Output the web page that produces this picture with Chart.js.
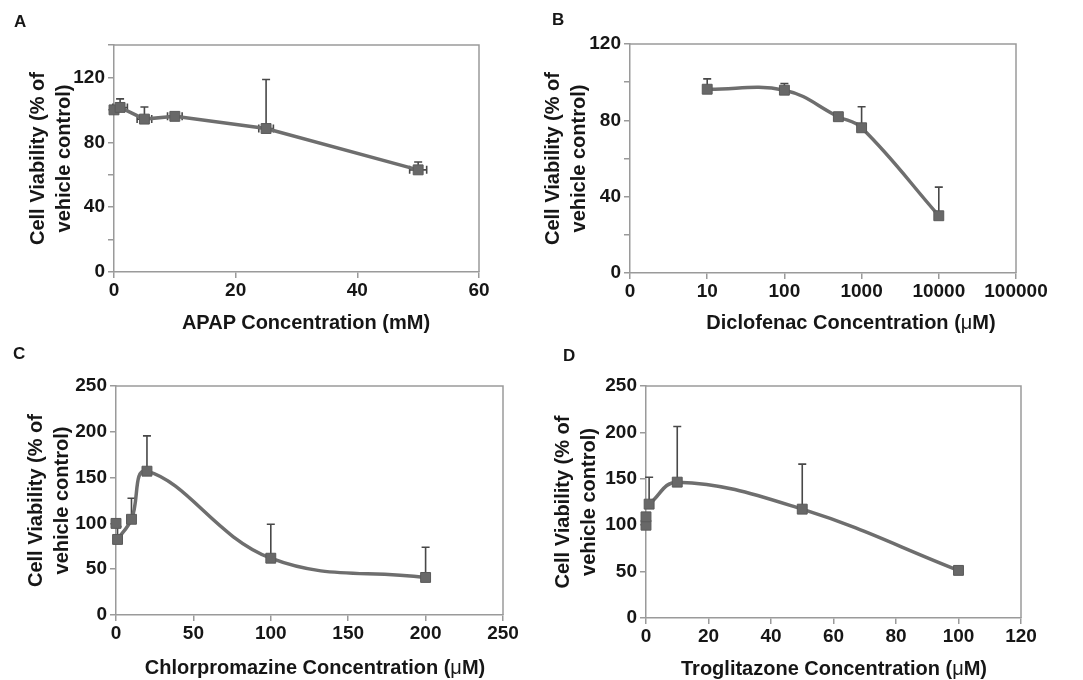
<!DOCTYPE html>
<html>
<head>
<meta charset="utf-8">
<script src="https://cdn.jsdelivr.net/npm/chart.js@4.4.1/dist/chart.umd.min.js"></script>
<style>
  body { margin: 0; background: #fff; }
  #wrap { position: relative; width: 1083px; height: 680px; overflow: hidden;
          font-family: "Liberation Sans", Arial, sans-serif; color: #161616; }
  canvas { position: absolute; }
  .letter { position: absolute; font-weight: bold; font-size: 17px; line-height: 17px; }
  .xtitle { position: absolute; font-weight: bold; font-size: 20px; line-height: 20px;
            white-space: nowrap; transform: translateX(-50%); }
  .mu { font-weight: normal; }
</style>
</head>
<body>
<div id="wrap">
  <canvas id="chartA" width="540" height="340" style="left:0;top:0"></canvas>
  <canvas id="chartB" width="543" height="340" style="left:540px;top:0"></canvas>
  <canvas id="chartC" width="540" height="340" style="left:0;top:340px"></canvas>
  <canvas id="chartD" width="543" height="340" style="left:540px;top:340px"></canvas>

  <div class="letter" style="left:14px;top:13px">A</div>
  <div class="letter" style="left:552px;top:11px">B</div>
  <div class="letter" style="left:13px;top:345px">C</div>
  <div class="letter" style="left:563px;top:347px">D</div>

  <div class="xtitle" style="left:306px;top:312px">APAP Concentration (mM)</div>
  <div class="xtitle" style="left:851px;top:312px">Diclofenac Concentration (<span class="mu">μ</span>M)</div>
  <div class="xtitle" style="left:315px;top:657px">Chlorpromazine Concentration (<span class="mu">μ</span>M)</div>
  <div class="xtitle" style="left:834px;top:658px">Troglitazone Concentration (<span class="mu">μ</span>M)</div>
</div>
<script>
// A: APAP (mM)
const apapConc = [0, 1, 5, 10, 25, 50];
const apapViab = [100, 101.5, 94.3, 96, 88.5, 63];
const apapErrY = [0, 5.3, 7.5, 0.8, 30.2, 4.8];
const apapErrX = [0, 1.2, 1.2, 1.2, 1.2, 1.4];

// B: Diclofenac (uM), log axis where the first tick is labelled 0
const dicloConc = [10, 100, 500, 1000, 10000];
const dicloViab = [96.3, 95.8, 81.9, 76.1, 30];
const dicloErrY = [5.4, 3.5, 0, 11, 15];
const dicloTicks = [1, 10, 100, 1000, 10000, 100000];
const dicloTickLabels = ['0', '10', '100', '1000', '10000', '100000'];

// C: Chlorpromazine (uM)
const cpzCtrlConc = [0];
const cpzCtrlViab = [100];
const cpzConc = [1, 10, 20, 100, 200];
const cpzViab = [82.5, 104.5, 157, 62, 41];
const cpzErrY = [14, 23, 38.6, 37, 33];

// D: Troglitazone (uM)
const troCtrlConc = [0, 0];
const troCtrlViab = [100, 109];
const troConc = [1, 10, 50, 100];
const troViab = [122.7, 146.4, 117.3, 51.3];
const troErrY = [29, 60, 48.5, 0];

// y labels shown on the 0-140 / 0-120 axes (ticks every 20)
const yLabels40 = [0, 40, 80, 120];

const yTitle = ['Cell Viability (% of', 'vehicle control)'];
const textColor = '#161616';
const axisColor = '#9a9a9a';
const lineColor = '#6e6e6e';
const markColor = '#686868';

Chart.defaults.font.family = '"Liberation Sans", Arial, sans-serif';
Chart.defaults.font.weight = 'bold';
Chart.defaults.color = textColor;

function pts(xs, ys) {
  return xs.map((x, i) => ({ x: x, y: ys[i] }));
}

// error bars drawn through the chart's scales
const errorBars = {
  id: 'errorBars',
  beforeDatasetsDraw(chart) {
    const { ctx, scales: { x, y } } = chart;
    ctx.save();
    ctx.strokeStyle = '#484848';
    ctx.lineWidth = 1.6;
    chart.data.datasets.forEach(ds => {
      if (!ds.errY) return;
      ds.data.forEach((p, i) => {
        const px = x.getPixelForValue(p.x);
        const py = y.getPixelForValue(p.y);
        const e = ds.errY[i];
        if (e > 0) {
          const top = y.getPixelForValue(p.y + e);
          ctx.beginPath();
          ctx.moveTo(px, py);
          ctx.lineTo(px, top);
          ctx.moveTo(px - 4, top);
          ctx.lineTo(px + 4, top);
          ctx.stroke();
        }
        const ex = ds.errX ? ds.errX[i] : 0;
        if (ex > 0) {
          const l = x.getPixelForValue(p.x - ex);
          const r = x.getPixelForValue(p.x + ex);
          ctx.beginPath();
          ctx.moveTo(l, py); ctx.lineTo(r, py);
          ctx.moveTo(l, py - 4); ctx.lineTo(l, py + 4);
          ctx.moveTo(r, py - 4); ctx.lineTo(r, py + 4);
          ctx.stroke();
        }
      });
    });
    ctx.restore();
  }
};

// top and right edges of the plot box
const frame = {
  id: 'frame',
  beforeDatasetsDraw(chart) {
    const { ctx, chartArea: a } = chart;
    ctx.save();
    ctx.strokeStyle = axisColor;
    ctx.lineWidth = 1.5;
    ctx.beginPath();
    ctx.moveTo(a.left, a.top);
    ctx.lineTo(a.right, a.top);
    ctx.lineTo(a.right, a.bottom);
    ctx.stroke();
    ctx.restore();
  }
};

function makeChart(id, cfg) {
  const datasets = [];
  if (cfg.ctrl) {
    datasets.push({
      data: cfg.ctrl,
      clip: false,
      showLine: false,
      pointStyle: 'rect',
      pointRadius: 7,
      pointHoverRadius: 7,
      backgroundColor: markColor,
      borderColor: '#5a5a5a',
      borderWidth: 1
    });
  }
  datasets.push({
    data: cfg.data,
    errY: cfg.errY,
    errX: cfg.errX,
    clip: false,
    showLine: true,
    tension: cfg.tension,
    borderColor: lineColor,
    borderWidth: 3.5,
    pointStyle: 'rect',
    pointRadius: 7,
    pointHoverRadius: 7,
    pointBackgroundColor: markColor,
    pointBorderColor: '#5a5a5a',
    pointBorderWidth: 1
  });

  const x = Object.assign({
    type: 'linear',
    border: { color: axisColor, width: 1.5 },
    grid: { drawOnChartArea: false, tickLength: 6, color: axisColor, lineWidth: 1.5 },
    afterFit: s => { s.height = cfg.xHeight; }
  }, cfg.x);
  x.ticks = Object.assign({ font: { size: 19 }, padding: 1, maxRotation: 0, autoSkip: false, color: textColor }, cfg.x.ticks || {});

  const y = {
    type: 'linear',
    min: 0,
    max: cfg.yMax,
    border: { color: axisColor, width: 1.5 },
    grid: { drawOnChartArea: false, tickLength: 6, color: axisColor, lineWidth: 1.5 },
    ticks: Object.assign({ stepSize: cfg.yStep, font: { size: 19 }, padding: 3, color: textColor }, cfg.yTicks || {}),
    title: {
      display: true,
      text: yTitle,
      font: { size: 20, weight: 'bold', lineHeight: 1.3 },
      color: textColor,
      padding: { top: cfg.yTitlePad, bottom: 0 }
    },
    afterFit: s => { s.width = cfg.yWidth; }
  };

  return new Chart(document.getElementById(id), {
    type: 'scatter',
    data: { datasets: datasets },
    options: {
      responsive: false,
      animation: false,
      layout: { padding: { left: 0, top: cfg.padTop, right: cfg.padRight, bottom: 0 } },
      plugins: { legend: { display: false }, tooltip: { enabled: false } },
      scales: { x: x, y: y }
    },
    plugins: [frame, errorBars]
  });
}

const show40 = v => (yLabels40.includes(v) ? String(v) : '');

makeChart('chartA', {
  data: pts(apapConc, apapViab), errY: apapErrY, errX: apapErrX, tension: 0,
  x: { min: 0, max: 60, ticks: { stepSize: 20 } },
  yMax: 140, yStep: 20, yTicks: { callback: show40 },
  yWidth: 114, xHeight: 68, padTop: 45, padRight: 61, yTitlePad: 25
});

makeChart('chartB', {
  data: pts(dicloConc, dicloViab), errY: dicloErrY, tension: 0.4,
  x: {
    type: 'logarithmic', min: 1, max: 100000,
    afterBuildTicks: s => { s.ticks = dicloTicks.map(v => ({ value: v })); },
    ticks: { callback: (v, i) => dicloTickLabels[i] }
  },
  yMax: 120, yStep: 20, yTicks: { callback: show40 },
  yWidth: 90, xHeight: 67, padTop: 44, padRight: 67, yTitlePad: 0
});

makeChart('chartC', {
  ctrl: pts(cpzCtrlConc, cpzCtrlViab),
  data: pts(cpzConc, cpzViab), errY: cpzErrY, tension: 0.4,
  x: { min: 0, max: 250, ticks: { stepSize: 50 } },
  yMax: 250, yStep: 50,
  yWidth: 116, xHeight: 65, padTop: 46, padRight: 37, yTitlePad: 23
});

makeChart('chartD', {
  ctrl: pts(troCtrlConc, troCtrlViab),
  data: pts(troConc, troViab), errY: troErrY, tension: 0.4,
  x: { min: 0, max: 120, ticks: { stepSize: 20 } },
  yMax: 250, yStep: 50,
  yWidth: 106, xHeight: 62, padTop: 46, padRight: 62, yTitlePad: 10
});
</script>
</body>
</html>
